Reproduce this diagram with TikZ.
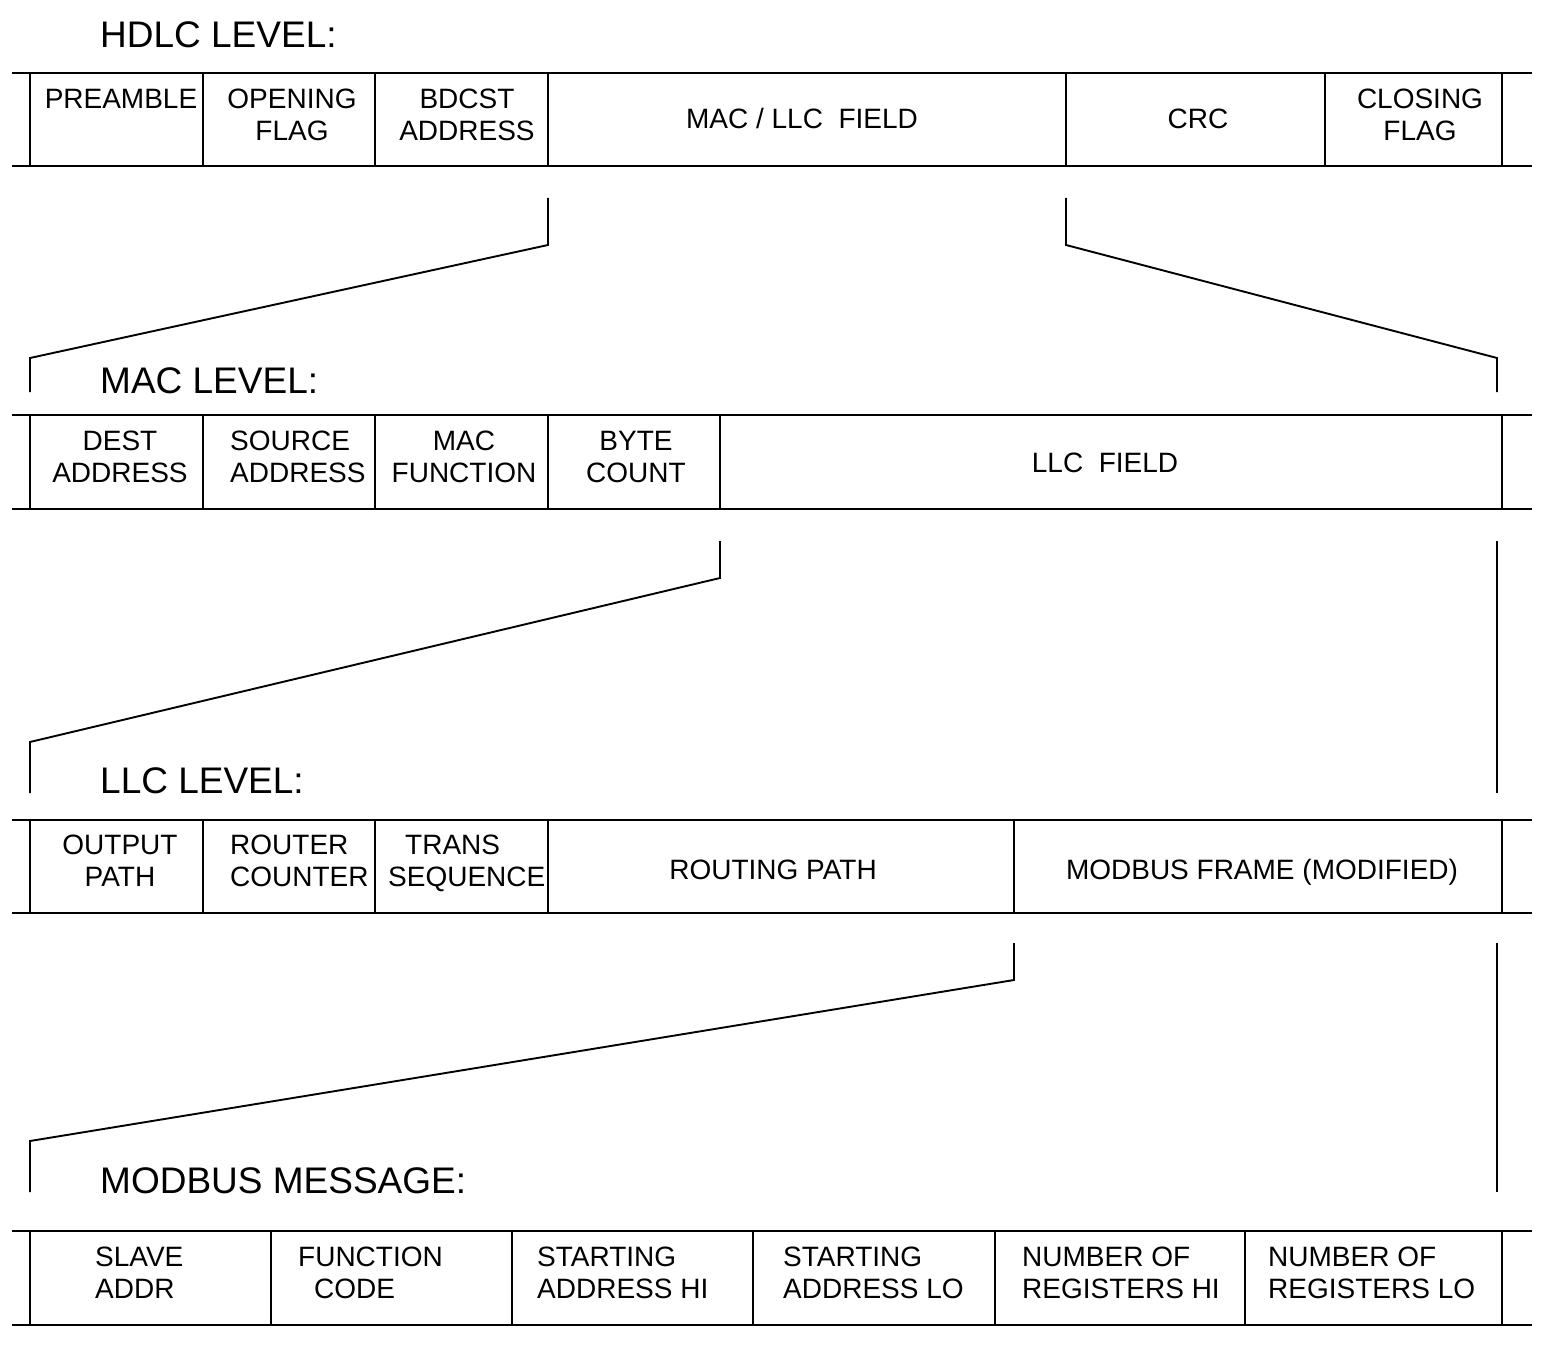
\documentclass[tikz,border=0pt]{standalone}
\usepackage{fontspec}
\setmainfont{Liberation Sans}
\begin{document}
\begin{tikzpicture}[x=1pt,y=-1pt,
 hline/.style={line width=2.8pt},
 vline/.style={line width=1.9pt},
 link/.style={line width=1.9pt, line join=miter},
 cell/.style={font=\fontsize{28}{32}\selectfont, inner sep=0pt, align=center},
 lcell/.style={cell, align=left, anchor=west},
 bcell/.style={cell, anchor=base},
 title/.style={font=\fontsize{37}{40}\selectfont, anchor=base west, inner sep=0pt}]
\useasboundingbox (0,0) rectangle (1550,1364);

% horizontal frame lines
\foreach \y in {73,166,415,509,820,913,1231,1325}
  \draw[hline] (12,\y) -- (1532,\y);
% separators
\foreach \x in {30,203,375,548,1066,1325,1502} \draw[vline] (\x,73) -- (\x,166);
\foreach \x in {30,203,375,548,720,1502} \draw[vline] (\x,415) -- (\x,509);
\foreach \x in {30,203,375,548,1014,1502} \draw[vline] (\x,820) -- (\x,913);
\foreach \x in {30,271,512,753,995,1245,1502} \draw[vline] (\x,1231) -- (\x,1325);

% titles
\node[title] (t1) at (100,48) {HDLC LEVEL:};
\node[title] (t2) at (100,393) {MAC LEVEL:};
\node[title] (t3) at (100,793) {LLC LEVEL:};
\node[title] (t4) at (100,1193) {MODBUS MESSAGE:};

% row 1
\node[bcell] (preamble) at (121,109) {PREAMBLE};
\node[cell] (oflag) at (292,115) {OPENING\\FLAG};
\node[cell] (bdcst) at (467,115) {BDCST\\ADDRESS};
\node[bcell] (macllc) at (802,129) {MAC / LLC\ \ FIELD};
\node[bcell] (crc) at (1198,129) {CRC};
\node[cell] (cflag) at (1420,115) {CLOSING\\FLAG};

% row 2
\node[cell] (dest) at (120,457) {DEST\\ADDRESS};
\node[lcell] (src) at (230,457) {SOURCE\\ADDRESS};
\node[cell] (macf) at (464,457) {MAC\\FUNCTION};
\node[cell] (bytec) at (636,457) {BYTE\\COUNT};
\node[bcell] (llcf) at (1105,472) {LLC\ \ FIELD};

% row 3
\node[cell] (outp) at (120,861) {OUTPUT\\PATH};
\node[lcell] (rcount) at (230,861) {ROUTER\\COUNTER};
\node[lcell] (tseq) at (388,863) {\hspace*{17pt}TRANS\\SEQUENCE};
\node[bcell] (rpath) at (773,879) {ROUTING PATH};
\node[bcell] (mframe) at (1262,879) {MODBUS FRAME (MODIFIED)};

% row 4
\node[lcell] (slave) at (95,1273) {SLAVE\\ADDR};
\node[lcell] (fcode) at (298,1273) {FUNCTION\\\hspace*{16pt}CODE};
\node[lcell] (sahi) at (537,1273) {STARTING\\ADDRESS HI};
\node[lcell] (salo) at (783,1273) {STARTING\\ADDRESS LO};
\node[lcell] (nrhi) at (1022,1273) {NUMBER OF\\REGISTERS HI};
\node[lcell] (nrlo) at (1268,1273) {NUMBER OF\\REGISTERS LO};

% connectors HDLC -> MAC
\coordinate (a1) at (548,198); \coordinate (a2) at (548,245);
\coordinate (a3) at (30,358);  \coordinate (a4) at (30,392);
\coordinate (b1) at (1066,198); \coordinate (b2) at (1066,245);
\coordinate (b3) at (1497,358); \coordinate (b4) at (1497,392);
\draw[link] (a1) -- (a2) -- (a3) -- (a4);
\draw[link] (b1) -- (b2) -- (b3) -- (b4);

% MAC -> LLC
\coordinate (c1) at (720,541); \coordinate (c2) at (720,578);
\coordinate (c3) at (30,742);  \coordinate (c4) at (30,793);
\coordinate (d1) at (1497,541); \coordinate (d2) at (1497,793);
\draw[link] (c1) -- (c2) -- (c3) -- (c4);
\draw[link] (d1) -- (d2);

% LLC -> MODBUS
\coordinate (e1) at (1014,943); \coordinate (e2) at (1014,980);
\coordinate (e3) at (30,1141);  \coordinate (e4) at (30,1192);
\coordinate (f1) at (1497,943); \coordinate (f2) at (1497,1192);
\draw[link] (e1) -- (e2) -- (e3) -- (e4);
\draw[link] (f1) -- (f2);
\end{tikzpicture}
\end{document}
